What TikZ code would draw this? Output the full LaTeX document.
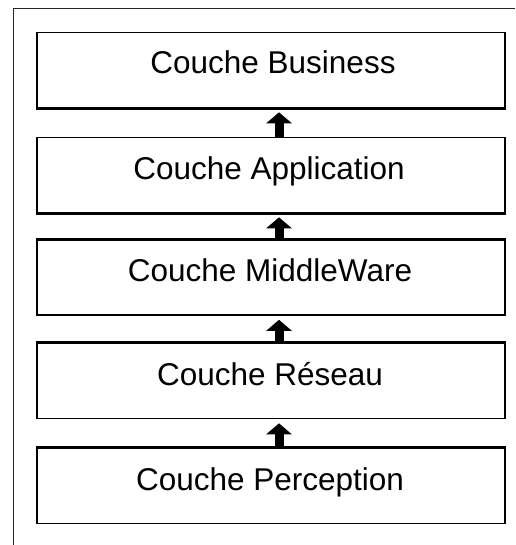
\documentclass[tikz,border=0pt]{standalone}
\usepackage{fontspec}
\setmainfont{Liberation Sans}
\usetikzlibrary{arrows.meta,calc}
\tikzset{
  layer/.style={draw=black, line width=1.6pt, minimum width=468pt, minimum height=75pt, inner sep=0pt, fill=white},
  lbl/.style={anchor=base, inner sep=0pt, font=\fontsize{31.5}{38}\selectfont, text=black},
  thickedge/.style={line width=3.4pt},
  uparr/.style={line width=9pt, -{Triangle[width=25pt,length=11pt]}, shorten >=4pt},
  frameline/.style={line width=1pt, draw=black!85}
}
\begin{document}
\begin{tikzpicture}[x=1pt,y=-1pt]
\useasboundingbox (0,0) rectangle (515,545);
\coordinate (ftl) at (13,9);
\coordinate (ftr) at (515,9);
\coordinate (fbl) at (13,545);
\draw[frameline] (ftr) -- (ftl) -- (fbl);
\coordinate (ax) at (279,0);
\node[layer] (b1) at (271,70) {};
\node[layer] (b2) at (271,175) {};
\node[layer] (b3) at (271,277.5) {};
\node[layer] (b4) at (271,381) {};
\node[layer] (b5) at (271,486) {};
\draw[thickedge] (b1.south west) -- (b1.south east);
\draw[thickedge] (b2.south west) -- (b2.south east);
\draw[thickedge] (b3.north west) -- (b3.north east);
\draw[thickedge] (b4.north west) -- (b4.north east);
\draw[thickedge] (b5.north west) -- (b5.north east);
\node[lbl] (t1) at ($(b1.center)+(2,4)$) {Couche Business};
\node[lbl] (t2) at ($(b2.center)+(-2,4)$) {Couche Application};
\node[lbl] (t3) at ($(b3.center)+(-1,4)$) {Couche MiddleWare};
\node[lbl] (t4) at ($(b4.center)+(-1,4)$) {Couche Réseau};
\node[lbl] (t5) at ($(b5.center)+(-1,4)$) {Couche Perception};
\draw[uparr] (b2.north -| ax) -- (b1.south -| ax);
\draw[uparr] (b3.north -| ax) -- (b2.south -| ax);
\draw[uparr] (b4.north -| ax) -- (b3.south -| ax);
\draw[uparr] (b5.north -| ax) -- (b4.south -| ax);
\end{tikzpicture}
\end{document}
